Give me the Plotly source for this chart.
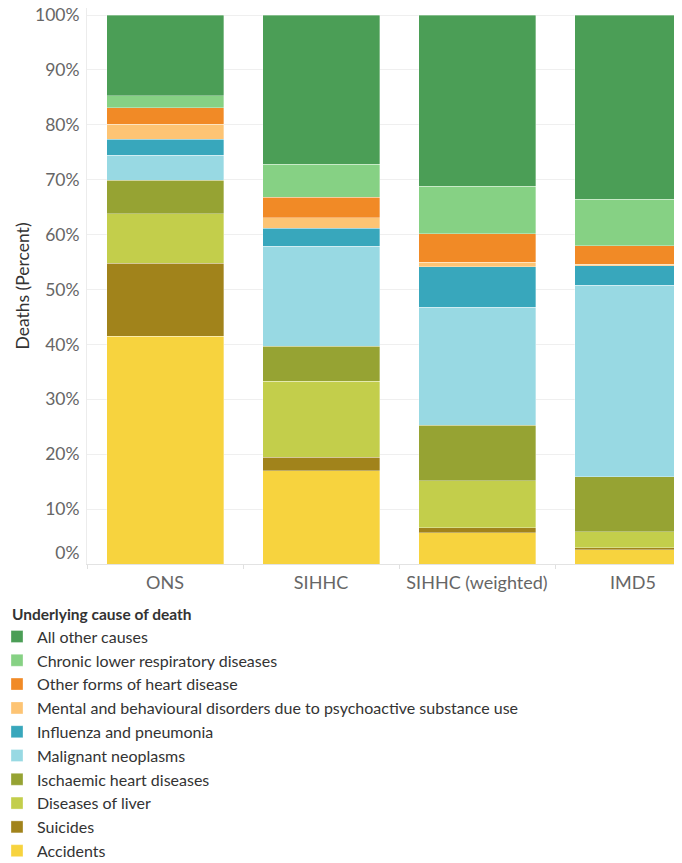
import plotly.graph_objects as go

sources = ["ONS", "SIHHC", "SIHHC (weighted)", "IMD5"]

# stacked bottom -> top
causes = [
    "Accidents",
    "Suicides",
    "Diseases of liver",
    "Ischaemic heart diseases",
    "Malignant neoplasms",
    "Influenza and pneumonia",
    "Mental and behavioural disorders due to psychoactive substance use",
    "Other forms of heart disease",
    "Chronic lower respiratory diseases",
    "All other causes",
]

accidents = [41.5, 17.0, 5.7, 2.6]
suicides = [13.3, 2.4, 0.9, 0.4]
liver = [9.0, 13.9, 8.6, 2.9]
ischaemic = [6.1, 6.4, 10.1, 10.0]
malignant = [4.6, 18.2, 21.5, 34.9]
influenza = [2.9, 3.3, 7.3, 3.5]
mental = [2.7, 1.9, 0.9, 0.3]
other_heart = [3.0, 3.7, 5.2, 3.4]
clrd = [2.2, 6.0, 8.6, 8.4]
all_other = [14.7, 27.2, 31.2, 33.6]

series = [accidents, suicides, liver, ischaemic, malignant, influenza,
          mental, other_heart, clrd, all_other]

colors = ["#f7d33e", "#a1831b", "#c3ce4b", "#96a333", "#98d9e3",
          "#38a7bc", "#fdc474", "#f18a26", "#86d184", "#4b9e56"]

y_ticks = [0, 10, 20, 30, 40, 50, 60, 70, 80, 90, 100]
# the bottom label sits just above the baseline in the original
y_tick_text = [f"{v}%" if v else f"{v}%<br> " for v in y_ticks]

FONT = "Lato"

fig = go.Figure()
for name, vals, col in zip(causes, series, colors):
    fig.add_trace(go.Bar(
        x=sources, y=vals, name=name,
        marker=dict(color=col, line=dict(color="rgba(255,255,255,0.55)", width=0.6)),
        hovertemplate="%{x}<br>" + name + ": %{y:.1f}%<extra></extra>",
    ))

# the page body adds an 8px offset, so the figure is sized to fill the rest of the window
W, H = 674, 855
L = 79
plot_w = W - L
band = 156
plot_h = 555.6
fig.update_layout(
    width=W, height=H,
    barmode="stack",
    bargap=0.25,
    paper_bgcolor="white",
    plot_bgcolor="white",
    margin=dict(l=L, r=0, t=0, b=H - plot_h, autoexpand=False),
    font=dict(family=FONT, color="#333333"),
    xaxis=dict(
        automargin=True,
        range=[-0.5, -0.5 + plot_w / band],
        showgrid=False,
        showline=True, linecolor="#e3e3e3", linewidth=1,
        ticks="outside", tickson="boundaries", ticklen=4, tickcolor="#e0e0e0",
        tickfont=dict(family=FONT, size=18, color="#666666"),
        ticklabelstandoff=2,
    ),
    yaxis=dict(
        automargin=True,
        range=[0, 100 + 7 / 5.486],
        tickvals=y_ticks, ticktext=y_tick_text,
        showgrid=True, gridcolor="#efefef", gridwidth=1,
        zeroline=False,
        showline=True, linecolor="#ececec", linewidth=1,
        tickfont=dict(family=FONT, size=17.5, color="#666666"),
        ticklabelstandoff=3,
        ticklabeloverflow="allow",
        title=dict(text="Deaths (Percent)", font=dict(family=FONT, size=17.5, color="#333333"), standoff=0),
    ),
    legend=dict(
        title=dict(text="Underlying cause of death", font=dict(family=FONT, size=15.5, color="#333333", weight=700)),
        orientation="v",
        traceorder="reversed",
        x=-(L - 2) / plot_w, xanchor="left",
        y=(plot_h - 591) / plot_h, yanchor="top",
        indentation=-13,
        font=dict(family=FONT, size=16, color="#333333"),
        bgcolor="rgba(0,0,0,0)",
    ),
    showlegend=True,
)

fig.write_html("out.html")
